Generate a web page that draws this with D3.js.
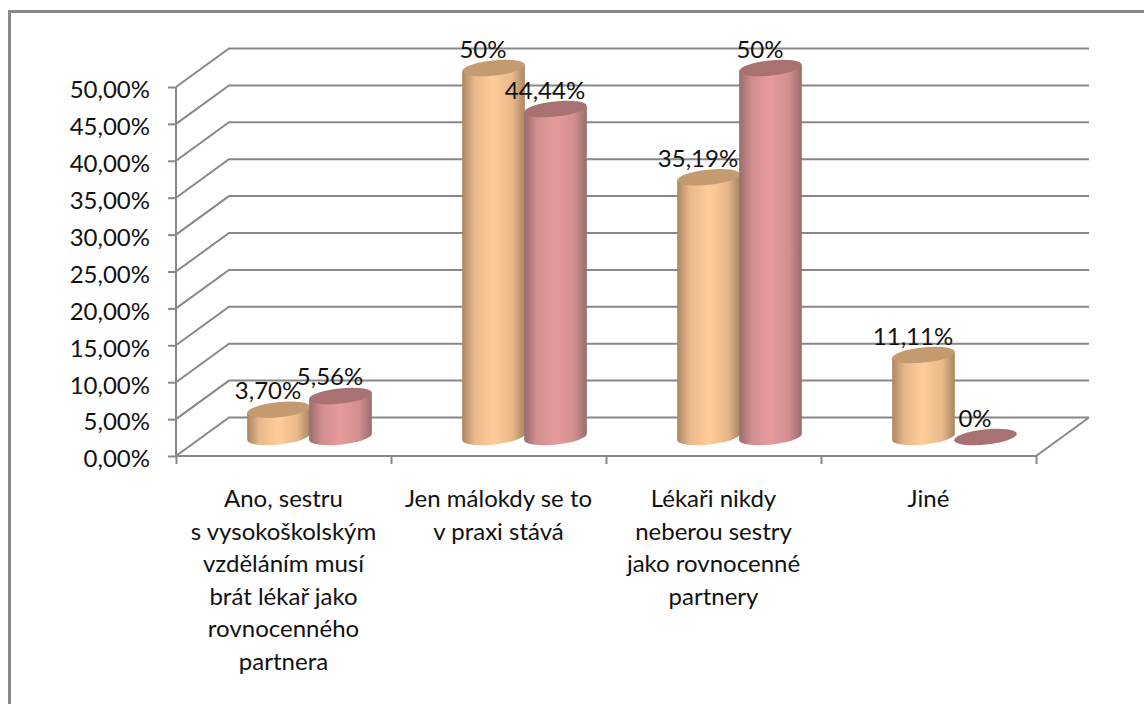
<!DOCTYPE html>
<html lang="cs">
<head>
<meta charset="utf-8">
<style>
html, body { margin: 0; padding: 0; background: #fff; }
svg { display: block; }
text { font-family: Lato, "Open Sans", sans-serif; font-size: 24px; fill: #111; }
</style>
</head>
<body>
<svg width="1144" height="704"></svg>
<script src="https://d3js.org/d3.v7.min.js"></script>
<script>
var categories = [
  ["Ano, sestru", "s vysokoškolským", "vzděláním musí", "brát lékař jako", "rovnocenného", "partnera"],
  ["Jen málokdy se to", "v praxi stává"],
  ["Lékaři nikdy", "neberou sestry", "jako rovnocenné", "partnery"],
  ["Jiné"]
];
var seriesA = [3.70, 50, 35.19, 11.11];
var seriesB = [5.56, 44.44, 50, 0];
var labelsA = ["3,70%", "50%", "35,19%", "11,11%"];
var labelsB = ["5,56%", "44,44%", "50%", "0%"];
var yTicks = [0, 5, 10, 15, 20, 25, 30, 35, 40, 45, 50];

var svg = d3.select("svg");

var depthX = 53, depthY = 38.5;
var grey = "#888888";
var groupShift = 26; // bars sit on the middle of the floor, not the front edge

var y = d3.scaleLinear().domain([0, 50]).range([456, 87]);
var x = d3.scaleBand().domain(d3.range(categories.length)).range([176, 1036]);

// outer frame, only top and left are inside the picture
svg.append("path")
  .attr("fill", "none").attr("stroke", grey).attr("stroke-width", 3)
  .attr("d", "M9.5,704V11.5H1144");

// gridlines, going back along the side wall and then across
svg.append("g").selectAll("path")
  .data(yTicks)
  .enter().append("path")
  .attr("fill", "none").attr("stroke", grey).attr("stroke-width", 2)
  .attr("d", function (d) {
    var yy = y(d);
    return "M176," + yy + "L" + (176 + depthX) + "," + (yy - depthY) + "L" + (1036 + depthX) + "," + (yy - depthY);
  });

// floor edge on the right
svg.append("path")
  .attr("fill", "none").attr("stroke", grey).attr("stroke-width", 2)
  .attr("d", "M1036," + y(0) + "L" + (1036 + depthX) + "," + (y(0) - depthY));

// axes
var yAxis = d3.axisLeft(y)
  .tickValues(yTicks)
  .tickSize(8)
  .tickPadding(18)
  .tickFormat(function (d) { return d3.format(".2f")(d).replace(".", ",") + "%"; });
var gy = svg.append("g").attr("transform", "translate(176,0)").call(yAxis);

var xAxis = d3.axisBottom(d3.scaleLinear().domain([0, 4]).range([176, 1036]))
  .ticks(4)
  .tickSize(8)
  .tickFormat("");
var gx = svg.append("g").attr("transform", "translate(0," + y(0) + ")").call(xAxis);

gy.selectAll("path, line").attr("stroke", grey).attr("stroke-width", 2);
gx.selectAll("path, line").attr("stroke", grey).attr("stroke-width", 2);
gy.selectAll("path").attr("d", "M0,87V457");
gx.selectAll("path").attr("d", "M176,0H1036");
gy.selectAll("line").attr("x1", 0);
gy.selectAll("text").attr("dy", "0.45em").style("font-size", "24px").style("font-family", "Lato");

// gradients across the cylinders
var defs = svg.append("defs");
function gradient(id, edge, mid, center) {
  var g = defs.append("linearGradient").attr("id", id);
  g.append("stop").attr("offset", "0").attr("stop-color", edge);
  g.append("stop").attr("offset", "0.2").attr("stop-color", mid);
  g.append("stop").attr("offset", "0.5").attr("stop-color", center);
  g.append("stop").attr("offset", "0.8").attr("stop-color", mid);
  g.append("stop").attr("offset", "1").attr("stop-color", edge);
}
gradient("orangeSide", "#a98662", "#e8b98a", "#ffcc99");
gradient("redSide", "#996c6d", "#d28e8f", "#e69b9d");

var rx = 31.5, ry = 7.6, tilt = -6 * Math.PI / 180;
var baseY = 437;
// vertical tangent points of the tilted ellipse
var tx = Math.sqrt(rx * rx * Math.cos(tilt) * Math.cos(tilt) + ry * ry * Math.sin(tilt) * Math.sin(tilt));
var ty = (rx * rx - ry * ry) * Math.sin(tilt) * Math.cos(tilt) / tx;

function barX(i, offset) {
  return x(i) + x.bandwidth() / 2 + groupShift + offset;
}
function barTop(d) {
  return baseY - (y(0) - y(d));
}

function drawSeries(values, offset, sideFill, topFill) {
  var g = svg.append("g").selectAll("g")
    .data(values)
    .enter().append("g")
    .attr("transform", function (d, i) { return "translate(" + barX(i, offset) + ",0)"; });

  g.filter(function (d) { return d > 0; }).append("path")
    .attr("fill", sideFill)
    .attr("d", function (d) {
      var top = barTop(d);
      return "M" + (-tx) + "," + (top - ty) +
        "L" + (-tx) + "," + (baseY - ty) +
        "A" + rx + "," + ry + " -6 0 0 " + tx + "," + (baseY + ty) +
        "L" + tx + "," + (top + ty) + "Z";
    });

  g.append("ellipse")
    .attr("rx", rx).attr("ry", ry)
    .attr("fill", topFill)
    .attr("transform", function (d) {
      return "translate(0," + barTop(d) + ") rotate(-6)";
    });
}

drawSeries(seriesA, -31, "url(#orangeSide)", "#c49a70");
drawSeries(seriesB, 31, "url(#redSide)", "#a87172");

// value labels
function drawLabels(values, labels, offset) {
  svg.append("g").selectAll("text")
    .data(values)
    .enter().append("text")
    .attr("text-anchor", "middle")
    .attr("x", function (d, i) { return barX(i, offset) - 10.5; })
    .attr("y", function (d) { return barTop(d) - 10.5; })
    .text(function (d, i) { return labels[i]; });
}
drawLabels(seriesA, labelsA, -31);
drawLabels(seriesB, labelsB, 31);

// category labels
var cat = svg.append("g").selectAll("text")
  .data(categories)
  .enter().append("text")
  .attr("text-anchor", "middle")
  .attr("y", 507);
cat.selectAll("tspan")
  .data(function (d, i) { return d.map(function (s) { return { s: s, i: i }; }); })
  .enter().append("tspan")
  .attr("x", function (d) { return x(d.i) + x.bandwidth() / 2; })
  .attr("dy", function (d, j) { return j ? 32.6 : 0; })
  .text(function (d) { return d.s; });
</script>
</body>
</html>
